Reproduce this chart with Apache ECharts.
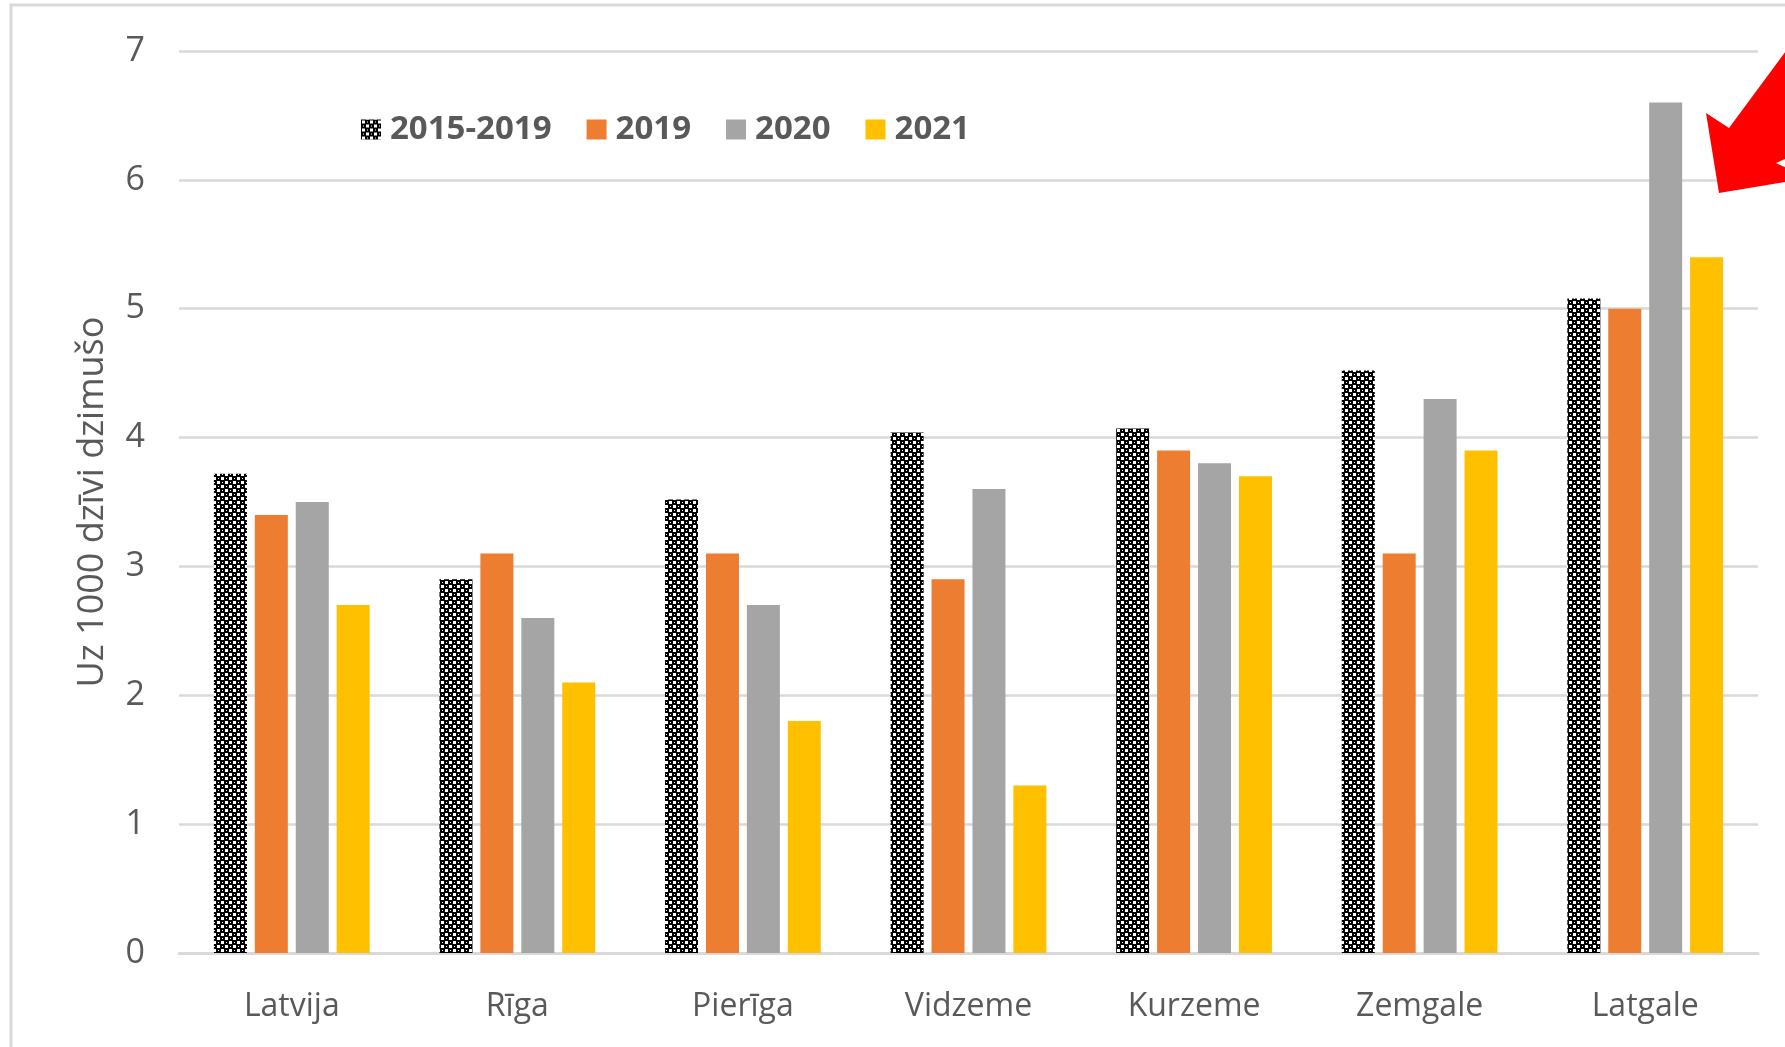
<!DOCTYPE html>
<html>
<head>
<meta charset="utf-8">
<script src="https://cdn.jsdelivr.net/npm/echarts@6/dist/echarts.min.js"></script>
<style>
  html, body { margin: 0; padding: 0; background: #fff; }
  #chart { width: 1785px; height: 1047px; }
</style>
</head>
<body>
<div id="chart"></div>
<script>
// Dati
var regions = ['Latvija', 'Rīga', 'Pierīga', 'Vidzeme', 'Kurzeme', 'Zemgale', 'Latgale'];
var avg2015_2019 = [3.72, 2.9, 3.52, 4.04, 4.07, 4.52, 5.08];
var y2019 = [3.4, 3.1, 3.1, 2.9, 3.9, 3.1, 5.0];
var y2020 = [3.5, 2.6, 2.7, 3.6, 3.8, 4.3, 6.6];
var y2021 = [2.7, 2.1, 1.8, 1.3, 3.7, 3.9, 5.4];

// Melns raksts ar baltiem punktiem
function makePattern() {
    var c = document.createElement('canvas');
    c.width = 8;
    c.height = 8;
    var ctx = c.getContext('2d');
    ctx.fillStyle = '#000';
    ctx.fillRect(0, 0, 8, 8);
    ctx.fillStyle = '#fff';
    ctx.fillRect(1, 1, 3, 3);
    ctx.fillRect(5, 5, 3, 3);
    ctx.fillRect(6, 2, 1, 1);
    ctx.fillRect(2, 6, 1, 1);
    return { image: c, repeat: 'repeat' };
}

var font = '"Open Sans", "DejaVu Sans", sans-serif';
var textColor = '#595959';

var chart = echarts.init(document.getElementById('chart'));

function barSeries(name, data, color) {
    return {
        name: name,
        type: 'bar',
        data: data,
        barWidth: 33,
        barGap: '24%',
        itemStyle: { color: color }
    };
}

var option = {
    animation: false,
    textStyle: { fontFamily: font },
    grid: { left: 179, right: 27, top: 51, bottom: 94 },
    legend: {
        left: 356,
        top: 108,
        icon: 'rect',
        itemWidth: 20,
        itemHeight: 20,
        itemGap: 35,
        textStyle: { fontSize: 33, fontWeight: 'bold', color: textColor, fontFamily: font, padding: [0, 0, 0, 4] },
        data: ['2015-2019', '2019', '2020', '2021']
    },
    xAxis: {
        type: 'category',
        data: regions,
        axisTick: { show: false },
        axisLine: { lineStyle: { color: '#D9D9D9', width: 3 } },
        axisLabel: { fontSize: 32, color: textColor, margin: 38, fontFamily: font }
    },
    yAxis: {
        type: 'value',
        min: 0,
        max: 7,
        interval: 1,
        name: 'Uz 1000 dzīvi dzimušo',
        nameLocation: 'middle',
        nameRotate: 90,
        nameGap: 68,
        nameTextStyle: { fontSize: 36, color: textColor, fontFamily: font },
        axisLine: { show: false },
        axisTick: { show: false },
        axisLabel: { fontSize: 34, color: textColor, margin: 34, fontFamily: font, padding: [8, 0, 0, 0] },
        splitLine: { lineStyle: { color: '#D9D9D9', width: 2.5 } }
    },
    graphic: [
        {
            type: 'polyline',
            silent: true,
            shape: { points: [[11, 1047], [11, 5], [1785, 5]] },
            style: { stroke: '#D9D9D9', lineWidth: 3, fill: null }
        },
        {
            type: 'polygon',
            silent: true,
            z: 100,
            shape: {
                points: [[1719, 193], [1706, 113], [1729, 128], [1800, 32], [1800, 152],
                         [1776, 163], [1800, 174], [1800, 180], [1785, 182]]
            },
            style: { fill: '#FF0000' }
        }
    ],
    series: [
        barSeries('2015-2019', avg2015_2019, makePattern()),
        barSeries('2019', y2019, '#ED7D31'),
        barSeries('2020', y2020, '#A5A5A5'),
        barSeries('2021', y2021, '#FFC000')
    ]
};

chart.setOption(option);
</script>
</body>
</html>
